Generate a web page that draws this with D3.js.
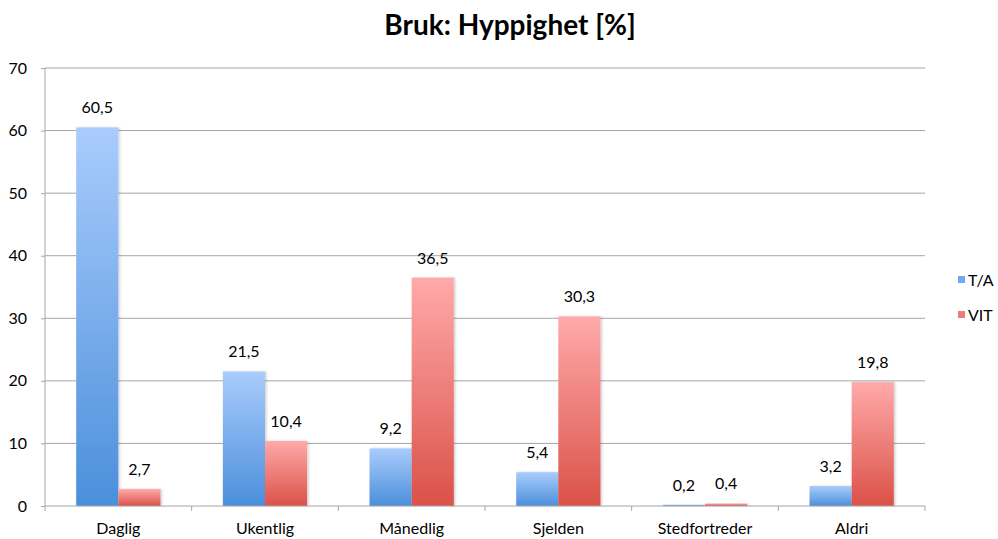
<!DOCTYPE html>
<html>
<head>
<meta charset="utf-8">
<script src="https://cdn.jsdelivr.net/npm/d3@7"></script>
<style>
  body { margin: 0; background: #fff; }
  text { font-family: Lato, "Open Sans", sans-serif; fill: #000; }
</style>
</head>
<body>
<script>
// data
var categories = ["Daglig", "Ukentlig", "Månedlig", "Sjelden", "Stedfortreder", "Aldri"];
var seriesNames = ["T/A", "VIT"];
var taValues = [60.5, 21.5, 9.2, 5.4, 0.2, 3.2];
var vitValues = [2.7, 10.4, 36.5, 30.3, 0.4, 19.8];
var yTicks = [0, 10, 20, 30, 40, 50, 60, 70];

var width = 998, height = 539;
var plot = {left: 45, right: 925, top: 68, bottom: 506};

var svg = d3.select("body").append("svg")
    .attr("width", width)
    .attr("height", height);

// gradients like the spreadsheet bars
var defs = svg.append("defs");
function grad(id, top, bottom) {
    var g = defs.append("linearGradient").attr("id", id)
        .attr("x1", 0).attr("y1", 0).attr("x2", 0).attr("y2", 1);
    g.append("stop").attr("offset", "0%").attr("stop-color", top);
    g.append("stop").attr("offset", "100%").attr("stop-color", bottom);
}
grad("gBlue", "#a9ccfc", "#4b8fdb");
grad("gRed", "#ffaaaa", "#db5148");
var fills = ["url(#gBlue)", "url(#gRed)"];
var legendFills = ["#6fa8ec", "#ee7d7a"];

// soft shadow on the bars
var shadow = defs.append("filter").attr("id", "shadow")
    .attr("x", "-20%").attr("y", "-5%").attr("width", "150%").attr("height", "110%");
shadow.append("feDropShadow")
    .attr("dx", 1.5).attr("dy", 0).attr("stdDeviation", 1.2)
    .attr("flood-color", "#000").attr("flood-opacity", 0.18);

var x = d3.scaleBand().domain(categories).range([plot.left, plot.right]);
var xs = d3.scaleBand().domain(seriesNames)
    .range([0, x.bandwidth()]).paddingInner(0).paddingOuter(0.74);
var y = d3.scaleLinear().domain([0, 70]).range([plot.bottom, plot.top]);

// title
svg.append("text")
    .attr("x", 510).attr("y", 35)
    .attr("text-anchor", "middle")
    .style("font-size", "28px").style("font-weight", "bold")
    .text("Bruk: Hyppighet [%]");

// grid lines
svg.append("g").selectAll("line")
    .data(yTicks.slice(1))
    .enter().append("line")
    .attr("x1", plot.left).attr("x2", plot.right)
    .attr("y1", function(d) { return y(d); })
    .attr("y2", function(d) { return y(d); })
    .attr("stroke", "#a6a6a6").attr("stroke-width", 1);

// y axis
var yAxis = d3.axisLeft(y).tickValues(yTicks).tickSize(4).tickPadding(14)
    .tickFormat(d3.format("d"));
var gy = svg.append("g")
    .attr("transform", "translate(" + plot.left + ",0)")
    .call(yAxis);
gy.select(".domain").remove();
gy.append("line").attr("y1", plot.top).attr("y2", plot.bottom).attr("stroke", "#a6a6a6");
gy.selectAll("line").attr("stroke", "#a6a6a6");
gy.selectAll("text").style("font-size", "16px").style("fill", "#000");

// bars
var rows = categories.map(function(c, i) {
    return {cat: c, vals: [taValues[i], vitValues[i]]};
});
var groups = svg.append("g").selectAll("g")
    .data(rows)
    .enter().append("g")
    .attr("transform", function(d) { return "translate(" + x(d.cat) + ",0)"; });

groups.selectAll("rect")
    .data(function(d) { return d.vals.map(function(v, j) { return {s: seriesNames[j], v: v, j: j}; }); })
    .enter().append("rect")
    .attr("x", function(d) { return xs(d.s); })
    .attr("width", xs.bandwidth())
    .attr("y", function(d) { return y(d.v); })
    .attr("height", function(d) { return y(0) - y(d.v); })
    .attr("fill", function(d) { return fills[d.j]; })
    .attr("filter", "url(#shadow)");

groups.selectAll("text")
    .data(function(d) { return d.vals.map(function(v, j) { return {s: seriesNames[j], v: v}; }); })
    .enter().append("text")
    .attr("x", function(d) { return xs(d.s) + xs.bandwidth() / 2; })
    .attr("y", function(d) { return y(d.v) - 14; })
    .attr("text-anchor", "middle")
    .style("font-size", "16px")
    .text(function(d) { return String(d.v).replace(".", ","); });

// x axis
var gx = svg.append("g")
    .attr("transform", "translate(0," + plot.bottom + ")");
gx.append("line")
    .attr("x1", plot.left).attr("x2", plot.right)
    .attr("stroke", "#a6a6a6");
gx.selectAll(".tick")
    .data(d3.range(categories.length + 1))
    .enter().append("line")
    .attr("x1", function(i) { return plot.left + i * x.step(); })
    .attr("x2", function(i) { return plot.left + i * x.step(); })
    .attr("y1", 0).attr("y2", 5)
    .attr("stroke", "#a6a6a6");
gx.selectAll("text")
    .data(categories)
    .enter().append("text")
    .attr("x", function(d) { return x(d) + x.bandwidth() / 2; })
    .attr("y", 28)
    .attr("text-anchor", "middle")
    .style("font-size", "16px")
    .text(function(d) { return d; });

// legend
var legend = svg.append("g").selectAll("g")
    .data(seriesNames)
    .enter().append("g")
    .attr("transform", function(d, i) { return "translate(958," + (276 + i * 35) + ")"; });
legend.append("rect")
    .attr("width", 7).attr("height", 7)
    .attr("fill", function(d, i) { return legendFills[i]; });
legend.append("text")
    .attr("x", 10).attr("y", 10)
    .style("font-size", "16px")
    .text(function(d) { return d; });
</script>
</body>
</html>
